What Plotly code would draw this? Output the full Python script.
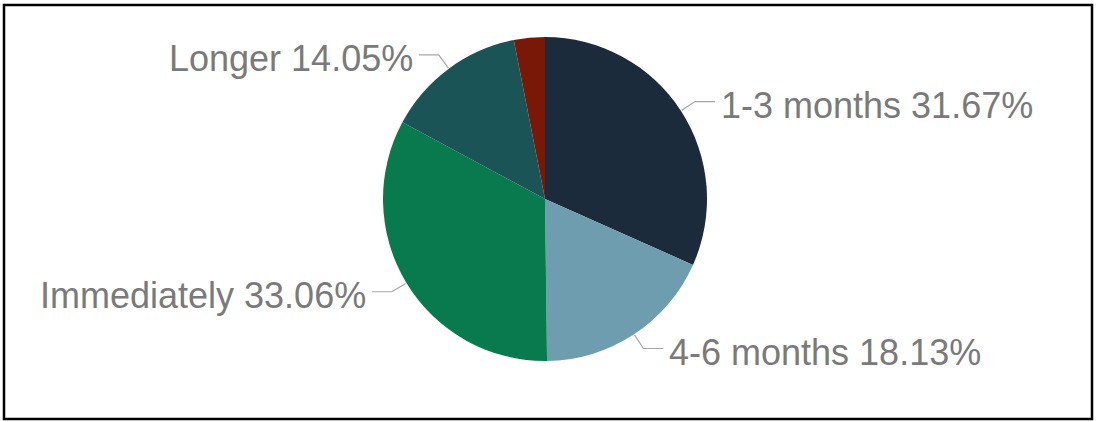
import math
import plotly.graph_objects as go

W, H = 1096, 422

categories = ["1-3 months", "4-6 months", "Immediately", "Longer", "Other"]
values = [31.67, 18.13, 33.06, 14.05, 3.09]
colors = ["#1C2B3B", "#6E9DAF", "#087A4E", "#1B5457", "#7A1808"]
show_label = [True, True, True, True, False]

# pie geometry (pixels)
cx, cy, R = 545, 199, 162

fig = go.Figure(go.Pie(
    labels=categories,
    values=values,
    sort=False,
    direction="clockwise",
    rotation=0,
    marker=dict(colors=colors, line=dict(width=0)),
    textinfo="none",
    hoverinfo="label+percent",
    showlegend=False,
    domain=dict(x=[(cx - R) / W, (cx + R) / W], y=[1 - (cy + R) / H, 1 - (cy - R) / H]),
))

def px(x):
    return x / W

def py(y):
    return 1 - y / H

total = sum(values)
cum = 0.0
shapes = []
annotations = []
for cat, v, show in zip(categories, values, show_label):
    mid = (cum + v / 2) / total * 2 * math.pi
    cum += v
    if not show:
        continue
    sx, sy = math.sin(mid), -math.cos(mid)
    ex, ey = cx + (R + 1) * sx, cy + (R + 1) * sy
    ox, oy = cx + (R + 17) * sx, cy + (R + 17) * sy
    side = 1 if sx > 0 else -1
    hx = ox + side * 20
    path = f"M {px(ex)} {py(ey)} L {px(ox)} {py(oy)} L {px(hx)} {py(oy)}"
    shapes.append(dict(type="path", xref="paper", yref="paper", path=path,
                       line=dict(color="#A6A6A6", width=1.2)))
    pct = v / total * 100
    annotations.append(dict(
        x=px(hx + side * 4), y=py(oy + 4), xref="paper", yref="paper",
        text=f"{cat} {pct:.2f}%", showarrow=False,
        xanchor="left" if side > 0 else "right", yanchor="middle",
        font=dict(family="Liberation Sans, Arial, sans-serif", size=36, color="#7A7A7A"),
    ))

shapes.append(dict(type="rect", xref="paper", yref="paper",
                   x0=px(4), x1=px(1092), y0=py(419), y1=py(5),
                   line=dict(color="#000000", width=2.5), fillcolor="rgba(0,0,0,0)"))

fig.update_layout(
    width=W, height=H,
    margin=dict(l=0, r=0, t=0, b=0),
    paper_bgcolor="white", plot_bgcolor="white",
    shapes=shapes, annotations=annotations,
)

fig.write_html("out.html")
